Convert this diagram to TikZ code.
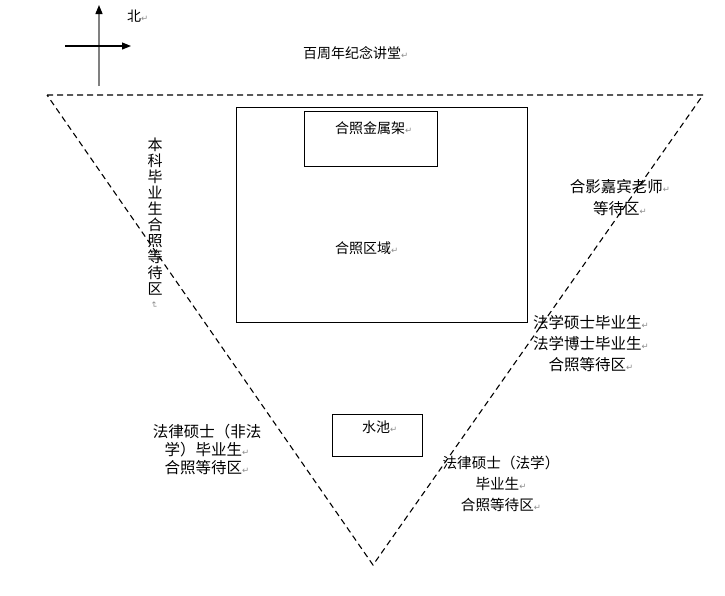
\documentclass[tikz,border=0pt]{standalone}
\usepackage{fontspec}
\setmainfont{Noto Sans CJK SC}
\newfontfamily\dejavu{DejaVu Sans}
\usepackage{tikz}
\usetikzlibrary{positioning,arrows.meta}
\usepackage{xcolor}
\definecolor{markgray}{HTML}{8C8C8C}
\newcommand{\pmark}{{\color{markgray}\dejavu\fontsize{8.5}{8.5}\selectfont ↵}}

\begin{document}
\begin{tikzpicture}[x=1pt,y=-1pt,
    lbl/.style={inner sep=0pt,font=\fontsize{14}{16}\selectfont},
    zone/.style={draw,inner sep=0pt,line width=1pt},
    border/.style={line width=1.1pt,dash pattern=on 6pt off 4pt}]
    \useasboundingbox (0,0) rectangle (725,595);

    % compass
    \coordinate (ns) at (99,86);
    \coordinate (nn) at (99,5);
    \coordinate (ew) at (65,46);
    \coordinate (ee) at (131,46);
    \draw[gray,line width=1.3pt,-{Triangle[length=9pt,width=7pt,color=black]}] (ns) -- (nn);
    \draw[line width=1.1pt,-{Triangle[length=9pt,width=7pt]}] (ew) -- (ee);
    \node[lbl,anchor=west] (north) at (127,16) {北\pmark};

    \node[lbl,anchor=west] (hall) at (303,53) {百周年纪念讲堂\pmark};

    % triangle of the square
    \coordinate (tl) at (47,95);
    \coordinate (tr) at (703,95);
    \coordinate (bt) at (373,565);
    \draw[border] (tl) -- (tr) -- (bt) -- cycle;

    % photo area and frame
    \node[zone,minimum width=291pt,minimum height=215pt] (area) at (381.5,214.5) {};
    \node[zone,minimum width=133pt,minimum height=55pt] (frame) at (370.5,138.5) {};
    \node[lbl,anchor=west] (frametxt) at (335,128) {合照金属架\pmark};
    \node[lbl,anchor=west] (areatxt) at (335,248) {合照区域\pmark};

    % pool
    \node[zone,minimum width=90pt,minimum height=42pt] (pool) at (377,435) {};
    \node[lbl,anchor=west] (pooltxt) at (362,427) {水池\pmark};

    % waiting zones
    \node[lbl,align=center,font=\fontsize{15}{16}\selectfont] (bachelor) at (155,217)
      {本\\科\\毕\\业\\生\\合\\照\\等\\待\\区};
    \node[inner sep=0pt,rotate=-90] (bachmark) at (154,305) {\pmark};
    \node[lbl,align=center,font=\fontsize{15.5}{22}\selectfont] (guests) at (620,198)
      {合影嘉宾老师\pmark\\等待区\pmark};
    \node[lbl,align=center,font=\fontsize{15.5}{21}\selectfont] (lawphd) at (591,344)
      {法学硕士毕业生\pmark\\法学博士毕业生\pmark\\合照等待区\pmark};
    \node[lbl,align=center,font=\fontsize{15.5}{18}\selectfont] (jmnonlaw) at (207,450)
      {法律硕士（非法\\学）毕业生\pmark\\合照等待区\pmark};
    \node[lbl,align=center,font=\fontsize{14.6}{21}\selectfont] (jmlaw) at (501,484)
      {法律硕士（法学）\\毕业生\pmark\\合照等待区\pmark};
\end{tikzpicture}
\end{document}
